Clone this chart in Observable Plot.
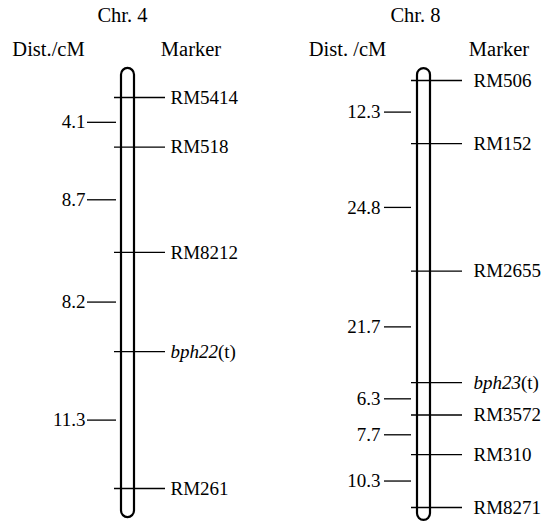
<!DOCTYPE html>
<html>
<head>
<meta charset="utf-8">
<script src="https://cdn.jsdelivr.net/npm/d3@7"></script>
<script src="https://cdn.jsdelivr.net/npm/@observablehq/plot@0.6"></script>
<style>
  html, body { margin: 0; padding: 0; background: white; }
  #row { display: flex; flex-direction: row; width: 546px; height: 522px; }
  svg { overflow: visible; }
</style>
</head>
<body>
<div id="row"></div>
<script>
// ---- data ----
const chr4Title = "Chr. 4";
const chr4DistHeader = "Dist./cM";
const chr4Markers = ["RM5414", "RM518", "RM8212", "bph22(t)", "RM261"];
const chr4Pos = [0, 4.1, 12.8, 21.0, 32.3];          // cumulative cM
const chr4Dist = ["4.1", "8.7", "8.2", "11.3"];       // interval labels
const chr4Span = [-2.4, 34.7];                         // rod extent, cM

const chr8Title = "Chr. 8";
const chr8DistHeader = "Dist. /cM";
const chr8Markers = ["RM506", "RM152", "RM2655", "bph23(t)", "RM3572", "RM310", "RM8271"];
const chr8Pos = [0, 12.3, 37.1, 58.8, 65.1, 72.8, 83.1];
const chr8Dist = ["12.3", "24.8", "21.7", "6.3", "7.7", "10.3"];
const chr8Span = [-2.3, 85.6];

const markerHeader = "Marker";

function chrPlot(cfg) {
  const markers = cfg.markers.map((m, i) => ({name: m, pos: cfg.pos[i]}));
  const dists = cfg.dist.map((d, i) => ({label: d, pos: (cfg.pos[i] + cfg.pos[i + 1]) / 2}));
  const span = [{y1: cfg.span[0], y2: cfg.span[1]}];
  const headers = [
    {t: cfg.title, dx: cfg.titleDx, dy: 15},
    {t: cfg.distHeader, dx: cfg.distDx, dy: 48.5},
    {t: markerHeader, dx: cfg.markerDx, dy: 48.5}
  ];
  return Plot.plot({
    width: 273,
    height: 522,
    marginLeft: cfg.ml,
    marginRight: 273 - cfg.mr,
    marginTop: 0,
    marginBottom: 0,
    x: {axis: null},
    y: {axis: null, domain: [0, cfg.pos[cfg.pos.length - 1]], range: cfg.yRange},
    style: {fontFamily: "'Liberation Serif', 'Times New Roman', serif", fontSize: "19px", background: "white", color: "black"},
    marks: [
      Plot.rect(span, {y1: "y1", y2: "y2", fill: "none", stroke: "black", strokeWidth: 2.2, rx: 6.5}),
      Plot.ruleY(markers, {y: "pos", stroke: "black", strokeWidth: 1.3, insetLeft: cfg.mkInL, insetRight: cfg.mkInR}),
      Plot.text(markers, {y: "pos", text: "name", frameAnchor: "right", textAnchor: "start", lineAnchor: "middle", dx: cfg.mkDx, fill: "black"}),
      Plot.ruleY(dists, {y: "pos", stroke: "black", strokeWidth: 1.3, insetLeft: cfg.dsInL, insetRight: cfg.dsInR}),
      Plot.text(dists, {y: "pos", text: "label", frameAnchor: "left", textAnchor: "end", lineAnchor: "middle", dx: cfg.dsDx, fill: "black"}),
      Plot.text(headers, {text: "t", frameAnchor: "top", textAnchor: "middle", lineAnchor: "middle", fontSize: 20.5, fill: "black",
        render: (index, scales, values, dims, ctx, next) => {
          const g = next(index, scales, values, dims, ctx);
          d3.select(g).selectAll("text").each(function(_, k) {
            const h = headers[index[k]];
            const tr = d3.select(this).attr("transform") || "";
            d3.select(this).attr("transform", tr + ` translate(${h.dx},${h.dy})`);
          });
          return g;
        }})
    ]
  });
}

const p4 = chrPlot({
  title: chr4Title, distHeader: chr4DistHeader, markers: chr4Markers, pos: chr4Pos, dist: chr4Dist, span: chr4Span,
  ml: 121, mr: 134, yRange: [97, 488],
  mkInL: -7, mkInR: -31, mkDx: 36, dsInL: -34, dsInR: 18, dsDx: -36,
  titleDx: -5.5, distDx: -79.5, markerDx: 63
});
const p8 = chrPlot({
  title: chr8Title, distHeader: chr8DistHeader, markers: chr8Markers, pos: chr8Pos, dist: chr8Dist, span: chr8Span,
  ml: 144, mr: 157, yRange: [80, 507],
  mkInL: -6, mkInR: -32, mkDx: 43, dsInL: -33, dsInR: 19, dsDx: -37,
  titleDx: -8.5, distDx: -76.5, markerDx: 75
});

const row = document.getElementById("row");
row.appendChild(p4);
row.appendChild(p8);

// italic gene names with roman "(t)"
d3.selectAll("svg text").each(function() {
  const s = this.textContent;
  const m = /^(bph\d+)(\(t\))$/.exec(s);
  if (m) {
    const t = d3.select(this);
    t.text(null);
    t.append("tspan").style("font-style", "italic").text(m[1]);
    t.append("tspan").text(m[2]);
  }
});
</script>
</body>
</html>
